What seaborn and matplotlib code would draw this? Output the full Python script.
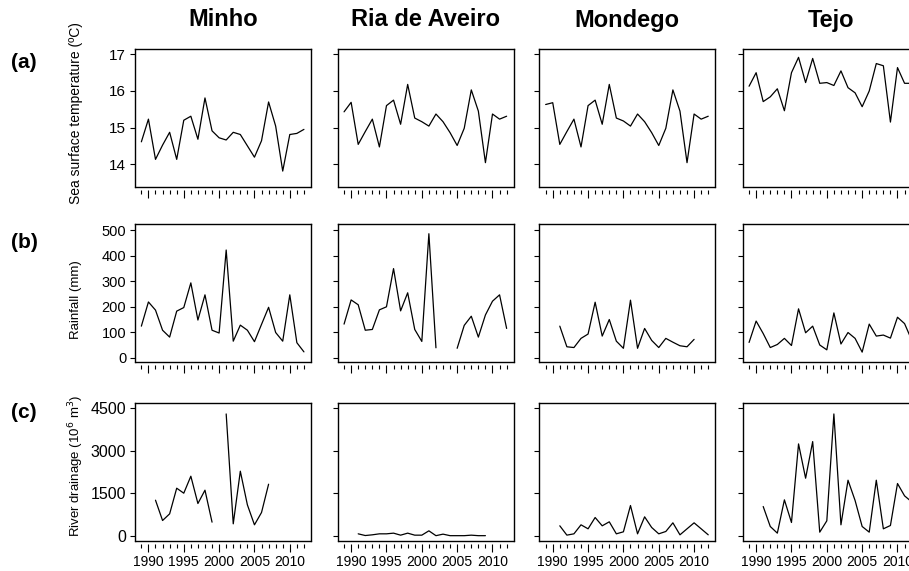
import numpy as np
import pandas as pd
import matplotlib
matplotlib.use("Agg")
import matplotlib.pyplot as plt
import seaborn as sns
from matplotlib.ticker import FixedLocator, NullFormatter

sns.set_style("ticks")
plt.rcParams["font.family"] = ["Liberation Sans", "DejaVu Sans"]
plt.rcParams["text.color"] = "black"

nan = np.nan
years = list(range(1989, 2013))
estuaries = ["Minho", "Ria de Aveiro", "Mondego", "Tejo"]
row_tags = ["(a)", "(b)", "(c)"]
row_labels = ["Sea surface temperature (ºC)", "Rainfall (mm)",
              r"River drainage (10$^{6}$ m$^{3}$)"]

sst_minho = [14.61, 15.23, 14.13, 14.52, 14.87, 14.13, 15.20, 15.31, 14.68, 15.81, 14.91, 14.72,
             14.66, 14.87, 14.81, 14.50, 14.19, 14.64, 15.70, 15.04, 13.81, 14.81, 14.84, 14.95]
sst_ria = [15.43, 15.69, 14.54, 14.89, 15.23, 14.47, 15.60, 15.75, 15.09, 16.18, 15.26, 15.16,
           15.04, 15.37, 15.16, 14.86, 14.51, 14.98, 16.03, 15.45, 14.04, 15.37, 15.23, 15.31]
sst_mondego = [15.63, 15.68, 14.54, 14.89, 15.23, 14.47, 15.60, 15.75, 15.09, 16.18, 15.26, 15.18,
               15.04, 15.37, 15.16, 14.86, 14.51, 14.98, 16.03, 15.45, 14.04, 15.37, 15.23, 15.31]
sst_tejo = [16.13, 16.50, 15.71, 15.84, 16.06, 15.46, 16.50, 16.92, 16.23, 16.89, 16.21, 16.23,
            16.15, 16.55, 16.09, 15.95, 15.57, 16.00, 16.75, 16.69, 15.15, 16.64, 16.21, 16.21]

rain_minho = [124, 219, 187, 108, 81, 183, 197, 294, 148, 247, 108, 97,
              423, 65, 128, 108, 63, 131, 198, 99, 65, 247, 59, 23]
rain_ria = [132, 227, 208, 108, 111, 188, 200, 350, 184, 255, 111, 64,
            487, 39, nan, nan, 37, 127, 163, 81, 168, 222, 247, 115]
rain_mondego = [nan, nan, 124, 43, 40, 76, 93, 218, 85, 150, 65, 37,
                226, 37, 115, 68, 40, 76, 61, 47, 43, 72, nan, nan]
rain_tejo = [60, 144, 95, 40, 52, 76, 48, 192, 98, 124, 50, 31,
             176, 54, 99, 76, 22, 132, 85, 89, 77, 159, 134, 70]

drain_minho = [nan, nan, 1257, 540, 775, 1680, 1504, 2103, 1140, 1610, 482, nan,
               4300, 423, 2280, 1093, 388, 823, 1821, nan, nan, nan, nan, nan]
drain_ria = [nan, nan, 70, 10, 35, 70, 70, 94, 23, 94, 23, 23,
             176, 5, 59, 5, 5, 5, 23, 5, 5, nan, nan, nan]
drain_mondego = [nan, nan, 353, 24, 70, 388, 247, 646, 353, 494, 70, 141,
                 1069, 70, 670, 294, 70, 153, 458, 35, 247, 458, 247, 35]
drain_tejo = [nan, nan, 1034, 329, 94, 1269, 470, 3243, 2033, 3325, 129, 529,
              4300, 388, 1962, 1246, 329, 129, 1962, 247, 364, 1845, 1410, 1200]

series = [
    [sst_minho, sst_ria, sst_mondego, sst_tejo],
    [rain_minho, rain_ria, rain_mondego, rain_tejo],
    [drain_minho, drain_ria, drain_mondego, drain_tejo],
]
y_ticks = [[14, 15, 16, 17], [0, 100, 200, 300, 400, 500], [0, 1500, 3000, 4500]]
y_lims = [(13.38, 17.14), (-16, 524), (-176, 4676)]
x_major = [1990, 1995, 2000, 2005, 2010]

# layout (pixels)
W, H = 909, 571
col_left = [135, 337.7, 539.3, 742.7]
panel_w = 176
row_top = [49.3, 224.3, 403.3]
panel_h = 137.5
ylab_center = [113, 300, 466]
tag_y = [62, 243, 413]
ytick_size = [11, 10.5, 11.5]
ylab_size = [10, 9.5, 9.5]

fig = plt.figure(figsize=(W / 100, H / 100), dpi=100)

for r in range(3):
    for c in range(4):
        L, T = col_left[c], row_top[r]
        ax = fig.add_axes([L / W, 1 - (T + panel_h) / H, panel_w / W, panel_h / H])
        vals = pd.Series(series[r][c], dtype=float)
        df = pd.DataFrame({"year": years, "value": vals})
        df["seg"] = df["value"].isna().cumsum()
        df = df.dropna()
        sns.lineplot(data=df, x="year", y="value", units="seg", estimator=None,
                     color="black", linewidth=0.9, ax=ax, legend=False)
        ax.set_xlim(1988.1, 2013.0)
        ax.set_ylim(*y_lims[r])
        ax.set_xlabel("")
        ax.set_ylabel("")
        ax.xaxis.set_major_locator(FixedLocator(x_major))
        ax.xaxis.set_minor_locator(FixedLocator(years))
        ax.set_yticks(y_ticks[r])
        for s in ax.spines.values():
            s.set_color("black")
            s.set_linewidth(1.0)
        ax.spines["bottom"].set_position(("outward", 2))
        ax.spines["bottom"].set_visible(False)
        ax.plot([0, 1], [0, 0], transform=ax.transAxes, color="black",
                linewidth=1.0, clip_on=False)
        ax.tick_params(axis="y", direction="out", length=3.8, width=0.8,
                       labelsize=ytick_size[r], pad=2.5, colors="black")
        ax.tick_params(axis="x", which="major", direction="out", length=5.5,
                       width=0.8, labelsize=10, pad=3, colors="black")
        ax.tick_params(axis="x", which="minor", direction="out", length=3,
                       width=0.8, colors="black")
        ax.xaxis.set_minor_formatter(NullFormatter())
        if c > 0:
            ax.set_yticklabels([])
        else:
            ax.set_yticklabels([str(v) for v in y_ticks[r]])
        if r < 2:
            ax.set_xticklabels([])
        else:
            ax.set_xticklabels([str(v) for v in x_major])
        if r == 0:
            fig.text((L + panel_w / 2) / W, 1 - 20 / H, estuaries[c],
                     ha="center", va="center", fontsize=17, fontweight="bold",
                     color="black")
    fig.text(24 / W, 1 - tag_y[r] / H, row_tags[r], ha="center", va="center",
             fontsize=15, fontweight="bold", color="black")
    fig.text(76 / W, 1 - ylab_center[r] / H, row_labels[r], ha="center",
             va="center", rotation=90, fontsize=ylab_size[r], color="black")

fig.savefig("out.png", dpi=100)
